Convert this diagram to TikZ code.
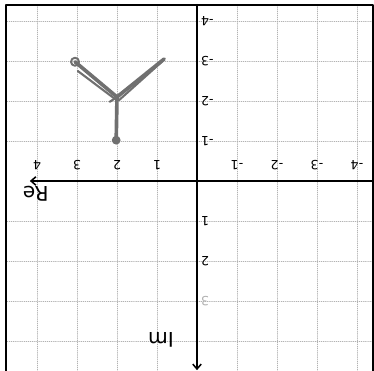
\documentclass[tikz,border=0pt]{standalone}
\usepackage{fontspec}
\setmainfont{DejaVu Sans}
\usepackage{tikz}
\usetikzlibrary{arrows.meta}
\definecolor{pengray}{RGB}{112,112,112}
\definecolor{gridgray}{RGB}{178,178,178}

\begin{document}
\begin{tikzpicture}[>={Straight Barb[length=3.5pt,width=6pt]},rotate=180,transform shape,
 line cap=round,line join=round,
 gridline/.style={gridgray,densely dotted,line width=.5pt},
 axisline/.style={black,line width=1.1pt},
 frameline/.style={black,line width=1.4pt},
 penline/.style={pengray,line width=2.6pt},
 ticklabel/.style={font=\small,inner sep=1pt}]
\useasboundingbox (-4.425,-4.525) rectangle (4.925,4.75);
% Siatka kratek i ramka kartki.
\foreach \k in {-4,...,-1,1,2,3,4} {
 \draw[gridline] (\k,-4.41) -- (\k,4.8);
 \draw[gridline] (-4.39,\k) -- (4.775,\k);
}
\draw[frameline] (4.775,4.8) -- (4.775,-4.41) -- (-4.39,-4.41) -- (-4.39,4.8);
% Osie Re i Im.
\coordinate (reStart) at (-4.39,0);
\coordinate (reEnd) at (4.18,0);
\coordinate (imStart) at (0,-4.41);
\coordinate (imEnd) at (0,4.73);
\draw[axisline,->] (reStart) -- (reEnd);
\draw[axisline,->] (imStart) -- (imEnd);
\node[font=\Large] (reLabel) at (4.03,0.33) {Re};
\node[font=\Large] (imLabel) at (0.9,3.98) {Im};
% Podziałka na osiach.
\foreach \k in {-4,...,-1,1,2,3,4}
 \node[ticklabel] (reTick\k) at (\k,-0.4) {\k};
\foreach \k in {-4,...,-1,1,2}
 \node[ticklabel,anchor=east] (imTick\k) at (-0.06,\k) {\k};
\node[ticklabel,anchor=east,gridgray] (imTick3) at (-0.06,3) {3};
% Szkic pierwiastków: środek i trzy ramiona.
\coordinate (zMid) at (2,-2.1);
\coordinate (zDot) at (2.02,-1.02);
\coordinate (zRing) at (3.05,-2.98);
\coordinate (zTip) at (0.82,-3.05);
\draw[penline] (zMid) -- (zDot);
\draw[penline] (zMid) -- (zRing);
\draw[penline] (zMid) -- (zTip);
\draw[penline,line width=1.5pt] (2.05,-2.05) -- (2.98,-2.75);
\draw[penline,line width=1.5pt] (1.95,-2.02) -- (0.88,-2.98);
\draw[penline,line width=1.5pt] (zMid) -- (2.18,-1.98);
\fill[pengray] (zDot) circle (0.11);
\draw[pengray,line width=1.4pt] (zRing) circle (0.1);
\end{tikzpicture}
\end{document}
